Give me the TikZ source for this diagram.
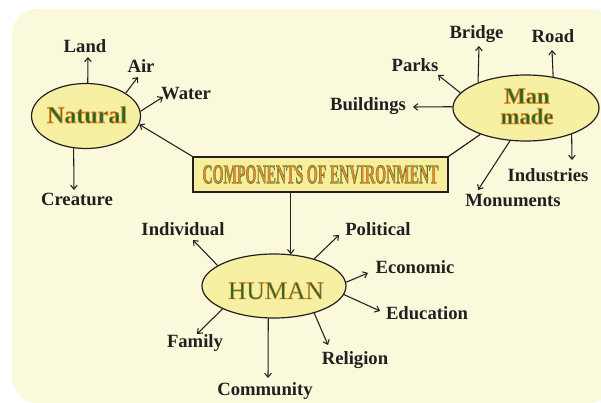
\documentclass[tikz,border=0pt]{standalone}
\usepackage{fontspec}
\setmainfont{Liberation Serif}
\usetikzlibrary{arrows.meta,shapes.geometric}
\definecolor{bgc}{HTML}{FAF9DC}
\definecolor{elfill}{HTML}{F7F0A2}
\definecolor{boxfill}{HTML}{F8EE9E}
\definecolor{ink}{HTML}{231F20}
\definecolor{tgreen}{HTML}{1B6B38}
\definecolor{torange}{HTML}{EE8A1E}
% fill the glyphs in the current colour and stroke their outlines in a second colour
\newcommand\edgedtext[3]{% #1 stroke rgb, #2 stroke width, #3 text
  \mbox{\special{pdf:literal q #1 RG #2 w 2 Tr}#3\special{pdf:literal Q}}}
\begin{document}
\begin{tikzpicture}[x=0.75pt,y=-0.75pt,
  bubble/.style={ellipse, draw=ink, fill=elfill, line width=0.9pt, inner sep=0pt},
  lbl/.style={font=\fontsize{14}{16}\selectfont\bfseries, text=ink, anchor=base, inner sep=0pt},
  arr/.style={draw=ink, line width=0.8pt, -{Straight Barb[length=3pt,width=5pt]}},
  link/.style={draw=ink, line width=0.9pt},
  titlebox/.style={rectangle, draw=ink, fill=boxfill, line width=0.9pt, inner sep=0pt,
    minimum width=191.25pt, minimum height=26.25pt},
  etext/.style={inner sep=0pt, text=tgreen}
]
\useasboundingbox (0,0) rectangle (601,403);
\clip (0,0) rectangle (601,403);
\fill[bgc, rounded corners=18.75pt] (12,9) rectangle (615,403);

% central box
\node[titlebox, text=torange] (box) at (320.5,174.5) {\resizebox{177pt}{13.5pt}{\fontsize{20}{22}\selectfont\bfseries\edgedtext{0.106 0.42 0.22}{0.3}{COMPONENTS OF ENVIRONMENT}}};

% ellipses
\node[bubble, minimum width=81.75pt, minimum height=48.75pt] (nat) at (86,116) {};
\node[bubble, minimum width=109.5pt, minimum height=49.5pt] (man) at (526,108) {};
\node[bubble, minimum width=108pt, minimum height=48pt] (hum) at (274,286) {};

\node[etext, anchor=base, font=\fontsize{18}{20}\selectfont\bfseries] (natT) at (87,123) {\edgedtext{0.933 0.541 0.118}{0.5}{Natural}};
\node[etext, anchor=base, font=\fontsize{17}{19}\selectfont\bfseries] (manT) at (527,103.5) {\edgedtext{0.933 0.541 0.118}{0.5}{Man}};
\node[etext, anchor=base, font=\fontsize{17}{19}\selectfont\bfseries] (madeT) at (527,124) {\edgedtext{0.933 0.541 0.118}{0.5}{made}};
\node[etext, anchor=base, font=\fontsize{19}{21}\selectfont] (humT) at (276,299) {\edgedtext{0.933 0.541 0.118}{0.35}{HUMAN}};

% Natural labels
\node[lbl] (land) at (85,53) {Land};
\node[lbl] (air) at (141,73) {Air};
\node[lbl] (water) at (186,100) {Water};
\node[lbl] (creature) at (77,205) {Creature};
\coordinate (landT) at (88,57);
\coordinate (airT) at (138,77);
\coordinate (waterT) at (163,97);
\coordinate (creatT) at (74,190);
\draw[arr] (nat.87) -- (landT);
\draw[arr] (nat.30) -- (airT);
\draw[arr] (nat.5) -- (waterT);
\draw[arr] (nat.249) -- (creatT);

% Man made labels
\node[lbl] (bridge) at (476.5,39) {Bridge};
\node[lbl] (road) at (553,43) {Road};
\node[lbl] (parks) at (415,72) {Parks};
\node[lbl] (buildings) at (368,111) {Buildings};
\node[lbl] (industries) at (548,182) {Industries};
\node[lbl] (monuments) at (513,207) {Monuments};
\coordinate (bridgeT) at (479,46);
\coordinate (roadT) at (552,50);
\coordinate (parksT) at (438,75);
\coordinate (buildT) at (413,107);
\coordinate (indT) at (572,160);
\coordinate (monT) at (478,190);
\draw[arr] (man.152) -- (bridgeT);
\draw[arr] (man.49) -- (roadT);
\draw[arr] (man.167) -- (parksT);
\draw[arr] (man.179) -- (buildT);
\draw[arr] (man.-30) -- (indT);
\draw[arr] (man.244) -- (monT);

% Human labels
\node[lbl] (individual) at (183,236) {Individual};
\node[lbl] (political) at (378,236) {Political};
\node[lbl] (economic) at (415,274) {Economic};
\node[lbl] (education) at (427,320) {Education};
\node[lbl] (religion) at (355,364) {Religion};
\node[lbl] (community) at (265,395) {Community};
\node[lbl] (family) at (195,348) {Family};
\coordinate (indivT) at (193,240);
\coordinate (polT) at (339,235);
\coordinate (ecoT) at (368,273);
\coordinate (eduT) at (380,311);
\coordinate (relT) at (328,345);
\coordinate (comT) at (268,378);
\coordinate (famT) at (197,334);
\draw[arr] (hum.160) -- (indivT);
\draw[arr] (hum.34) -- (polT);
\draw[arr] (hum.3) -- (ecoT);
\draw[arr] (hum.-7) -- (eduT);
\draw[arr] (hum.-34) -- (relT);
\draw[arr] (hum.260) -- (comT);
\draw[arr] (hum.204) -- (famT);

% links from the central box
\draw[arr] (box.north west) -- (nat.-9);
\draw[link] (box.north east) -- (man.210);
\coordinate (htop) at (hum.62);
\draw[arr] (box.south -| htop) -- (htop);
\end{tikzpicture}
\end{document}
